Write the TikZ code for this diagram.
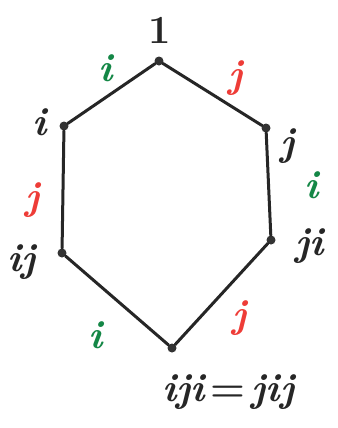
\documentclass[tikz,border=0pt]{standalone}
\begin{document}
\begin{tikzpicture}[x=1bp,y=-1bp,
  vtx/.style={circle,fill=black!80,inner sep=0pt,minimum size=9bp},
  edge/.style={line width=3bp,black!85,line cap=round},
  lbl/.style={font=\fontsize{40}{40}\selectfont\bfseries\itshape,text=black!85,inner sep=0pt},
  gl/.style={lbl,text=grn},
  rl/.style={lbl,text=rd}]
\definecolor{grn}{RGB}{20,135,70}
\definecolor{rd}{RGB}{238,60,55}
\useasboundingbox[fill=white] (0,0) rectangle (338,428);
\node[vtx] (v1) at (159,61) {};
\node[vtx] (vi) at (64,126) {};
\node[vtx] (vj) at (266,128) {};
\node[vtx] (vij) at (62,253) {};
\node[vtx] (vji) at (271,240) {};
\node[vtx] (vb) at (172,348) {};
\draw[edge] (v1) -- (vi) -- (vij) -- (vb) -- (vji) -- (vj) -- (v1);
\node[lbl,font=\fontsize{40}{40}\selectfont\bfseries\upshape] (t1) at (160,30) {1};
\node[lbl] (ti) at (40,122) {i};
\node[lbl] (tj) at (288,146) {j};
\node[lbl] (tij) at (22,262) {ij};
\node[lbl] (tji) at (310,246) {ji};
\node[lbl,anchor=west] (tb) at (162,392) {iji{\upshape\kern6bp=\kern6bp}jij};
\node[gl] (e1) at (106,68) {i};
\node[rl] (e2) at (236,78) {j};
\node[rl] (e3) at (33,200) {j};
\node[gl] (e4) at (312,185) {i};
\node[gl] (e5) at (96,335) {i};
\node[rl] (e6) at (240,318) {j};
\end{tikzpicture}
\end{document}
